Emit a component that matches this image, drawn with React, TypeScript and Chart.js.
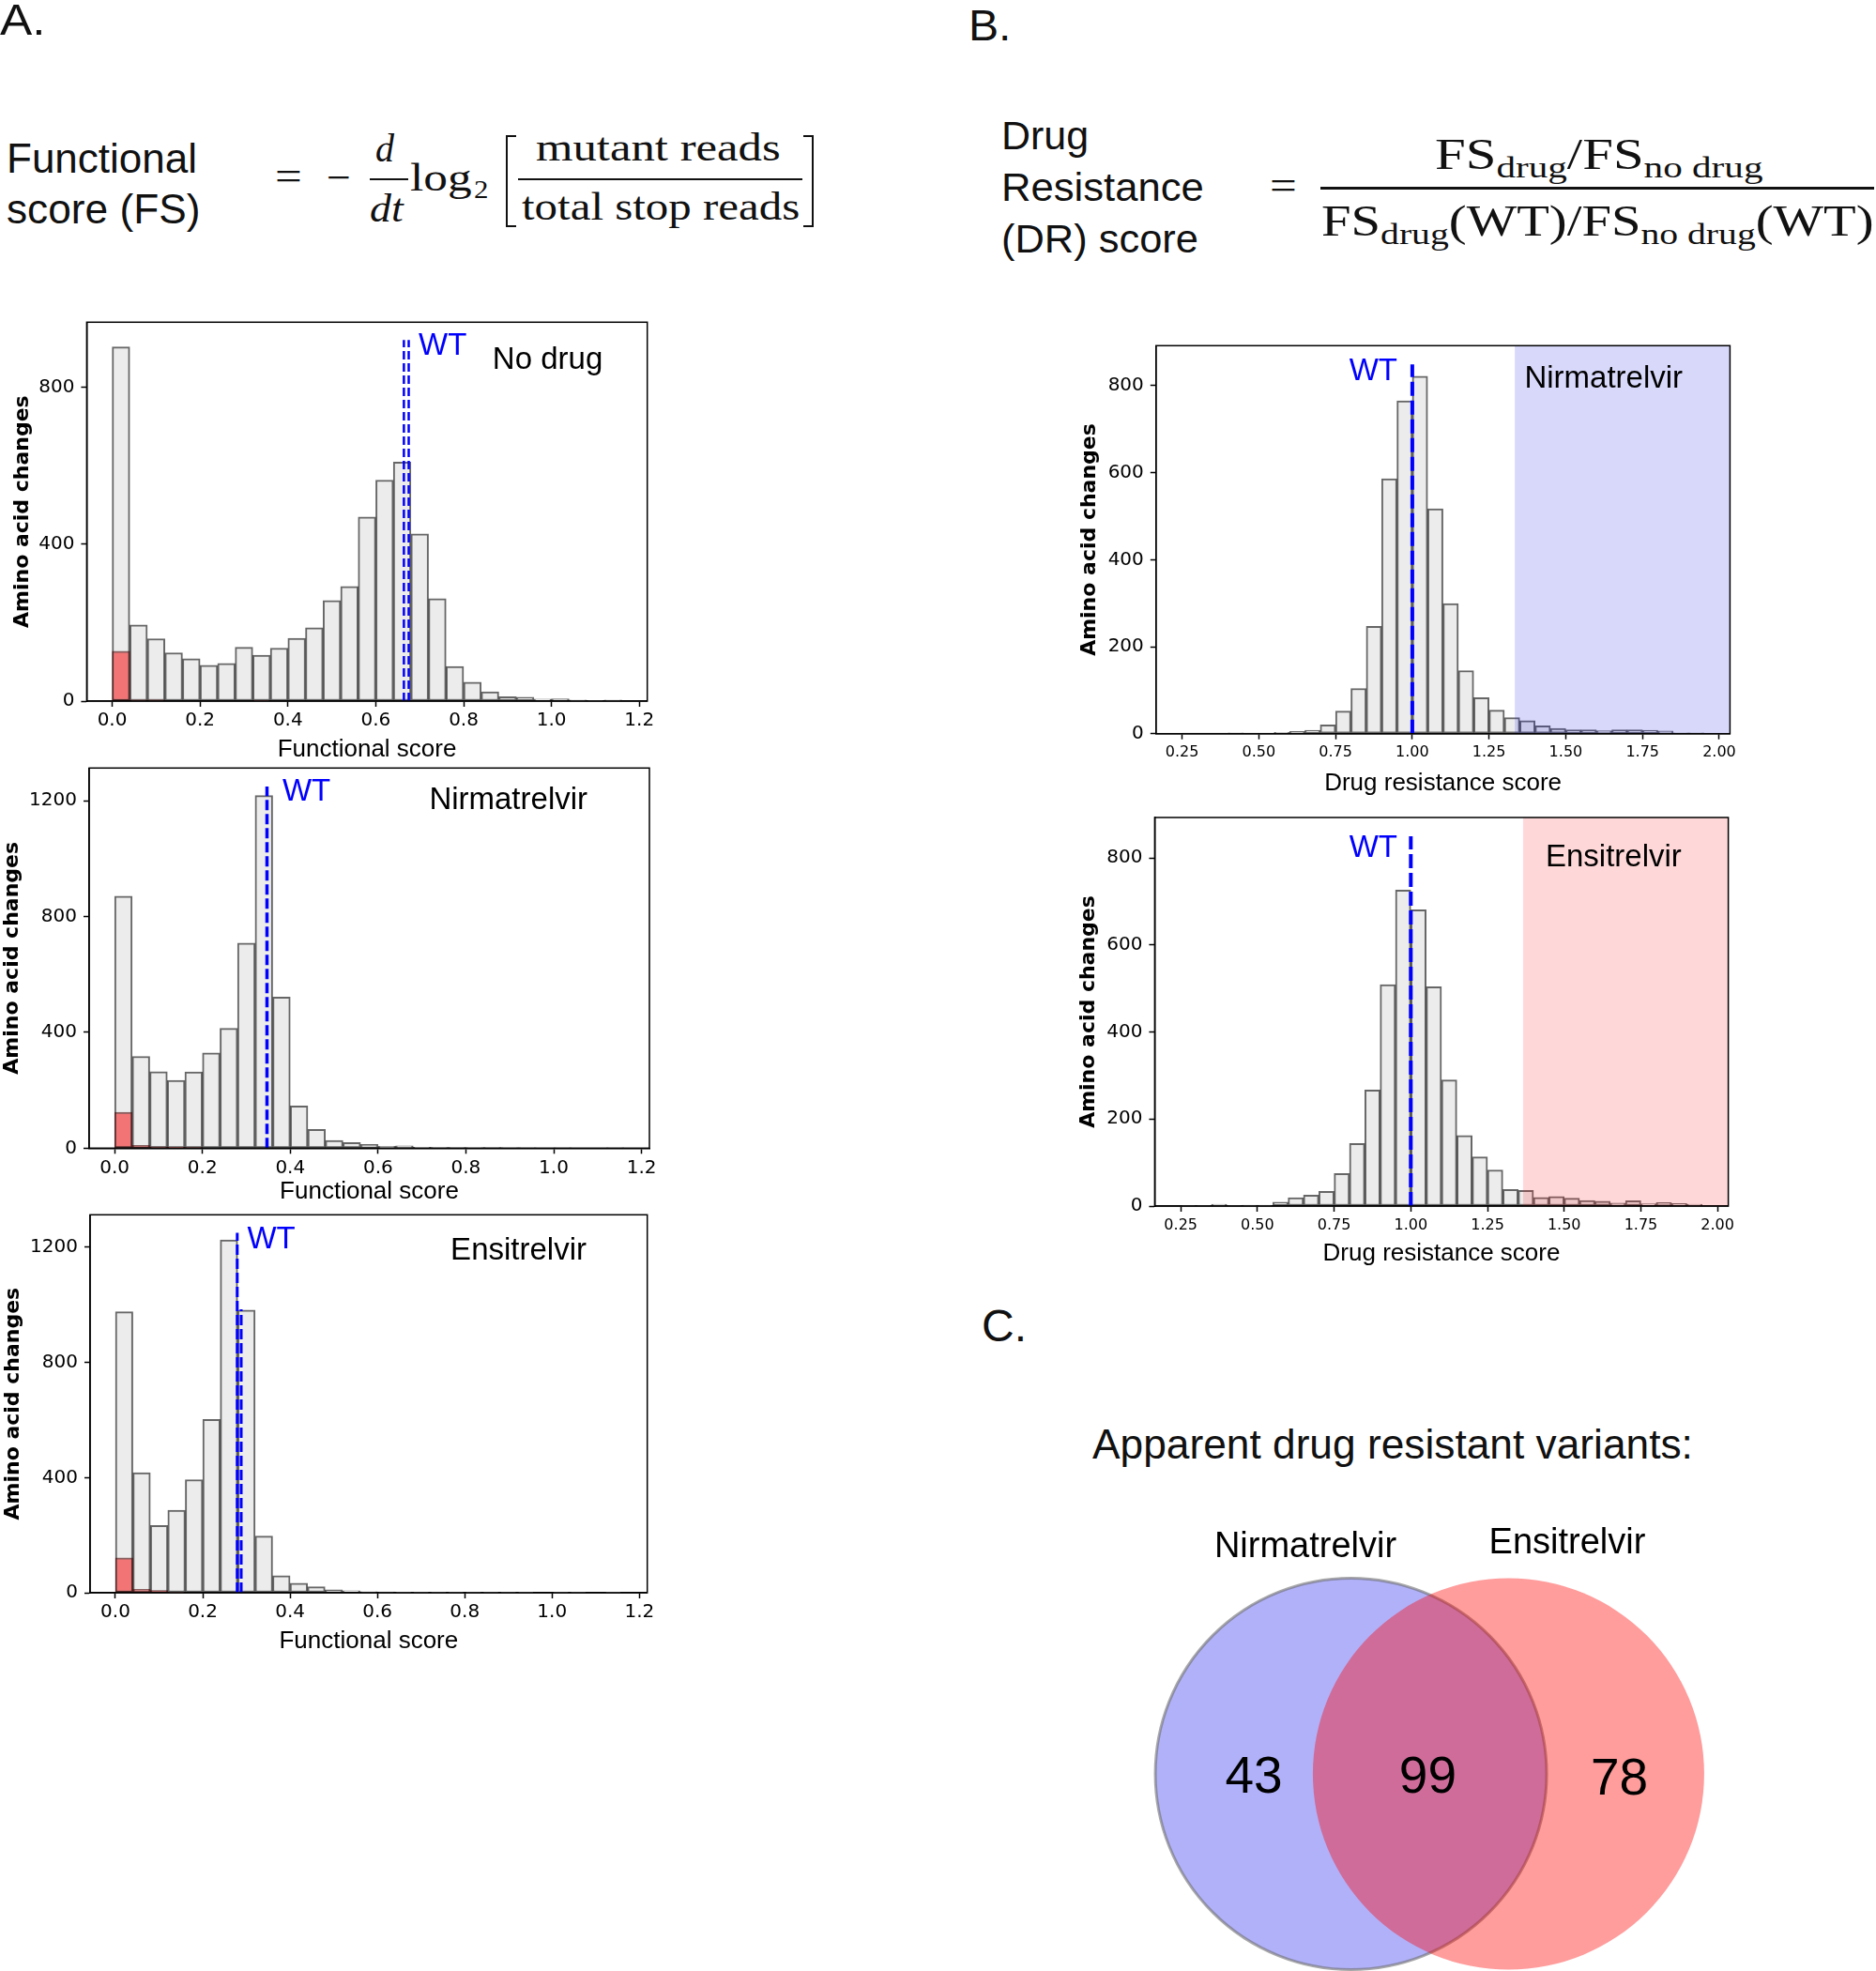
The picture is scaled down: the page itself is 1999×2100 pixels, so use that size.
import React, { useEffect, useLayoutEffect, useRef } from 'react';
import { Chart, registerables } from 'chart.js';

Chart.register(...registerables);

// ---------------- DATA ----------------
// Functional-score histograms: bins of 0.04 starting at 0.00
const fsBinStart = 0;
const fsBinWidth = 0.04;
const noDrugCounts = [902, 194, 159, 123, 108, 91, 96, 137, 117, 135, 160, 187, 256, 292, 469, 563, 609, 426, 261, 88, 48, 24, 11, 10, 5, 6, 3, 1, 3];
const noDrugStopCounts = [127, 3, 3, 0, 0, 0, 0, 0, 2, 0, 0, 0, 0, 0, 0, 0, 0, 0, 0, 0, 0, 0, 0, 0, 0, 0, 0, 0, 0];
const nirFsCounts = [870, 317, 264, 234, 263, 329, 414, 708, 1218, 522, 146, 65, 27, 19, 13, 6, 8, 3, 2, 2, 1, 2, 1, 1, 0, 1, 0, 0, 1];
const nirFsStopCounts = [124, 10, 5, 3, 2, 0, 0, 0, 0, 0, 0, 0, 0, 0, 0, 0, 0, 0, 0, 0, 0, 0, 0, 0, 0, 0, 0, 0, 0];
const ensFsCounts = [976, 417, 234, 287, 393, 602, 1226, 982, 197, 59, 33, 21, 10, 7, 4, 3, 2, 1, 1, 1, 2, 1, 1, 1, 0, 1, 1, 0, 1];
const ensFsStopCounts = [121, 12, 8, 2, 0, 0, 0, 0, 0, 0, 0, 0, 0, 0, 0, 0, 0, 0, 0, 0, 0, 0, 0, 0, 0, 0, 0, 0, 0];

// Drug-resistance-score histograms: bins of 0.05 starting at 0.25
const drBinStart = 0.25;
const drBinWidth = 0.05;
const nirDrCounts = [1, 1, 1, 2, 1, 1, 3, 5, 8, 20, 52, 104, 247, 586, 765, 822, 517, 299, 145, 83, 54, 37, 30, 18, 12, 9, 9, 7, 9, 9, 8, 6, 2, 2];
const ensDrCounts = [1, 1, 4, 1, 2, 2, 9, 19, 25, 34, 75, 144, 267, 509, 726, 681, 504, 290, 162, 113, 83, 38, 36, 20, 22, 18, 13, 11, 7, 12, 5, 8, 6, 4];

// Tick labels
const fsTicksX = [0, 0.2, 0.4, 0.6, 0.8, 1.0, 1.2];
const drTicksX = [0.25, 0.5, 0.75, 1.0, 1.25, 1.5, 1.75, 2.0];
const fsTicksYNoDrug = [0, 400, 800];
const fsTicksYDrug = [0, 400, 800, 1200];
const drTicksY = [0, 200, 400, 600, 800];

// WT reference values (x) and the height reached by each WT marker line
const wtNoDrug = [{ x: 0.664, top: 920 }, { x: 0.675, top: 920 }];
const wtNirFs = [{ x: 0.347, top: 1249 }];
const wtEnsFs = [{ x: 0.279, top: 1250 }, { x: 0.288, top: 985 }];
const wtNirDr = [{ x: 1.0, top: 849 }];
const wtEnsDr = [{ x: 1.0, top: 850 }];

// Resistance thresholds (shaded regions)
const nirDrThreshold = 1.334;
const ensDrThreshold = 1.366;

// Venn diagram
const vennSetLabels = ['Nirmatrelvir', 'Ensitrelvir'];
const vennCounts = [43, 99, 78]; // Nirmatrelvir only, both, Ensitrelvir only

// ---------------- STYLE ----------------
const SANS = '"Liberation Sans", Arial, Helvetica, sans-serif';
const SERIF = '"Liberation Serif", "Times New Roman", serif';
const MPL = '"DejaVu Sans", "Liberation Sans", sans-serif';

const extrasPlugin = {
  id: 'extras',
  afterDatasetsDraw(chart: any, _args: any, opts: any) {
    const { ctx, chartArea: a, scales } = chart;
    const x = scales.x;
    const y = scales.y;
    ctx.save();
    if (opts.shade) {
      const x0 = x.getPixelForValue(opts.shade.from);
      ctx.fillStyle = opts.shade.color;
      ctx.fillRect(x0, a.top, a.right - x0, a.bottom - a.top);
    }
    ctx.strokeStyle = '#0000ff';
    ctx.lineWidth = opts.wtWidth;
    ctx.setLineDash(opts.dash);
    for (const w of opts.wt) {
      const px = x.getPixelForValue(w.x);
      ctx.beginPath();
      ctx.moveTo(px, y.getPixelForValue(0));
      ctx.lineTo(px, y.getPixelForValue(w.top));
      ctx.stroke();
    }
    ctx.setLineDash([]);
    ctx.font = `33px ${SANS}`;
    ctx.textBaseline = 'alphabetic';
    for (const t of opts.texts) {
      ctx.fillStyle = t.color;
      ctx.textAlign = t.align || 'left';
      ctx.fillText(t.text, a.left + t.fx * (a.right - a.left), a.bottom - t.fy * (a.bottom - a.top));
    }
    ctx.strokeStyle = '#000';
    ctx.lineWidth = 1.5;
    ctx.strokeRect(a.left, a.top, a.right - a.left, a.bottom - a.top);
    ctx.restore();
  },
};

type Panel = {
  area: { l: number; t: number; r: number; b: number };
  yTitleX: number;
  xTitleMid: number;
  xMin: number;
  xMax: number;
  yMax: number;
  xTicks: number[];
  yTicks: number[];
  xDec: number;
  xTickSize: number;
  binStart: number;
  binWidth: number;
  counts: number[];
  stop?: number[];
  xTitle: string;
  wt: { x: number; top: number }[];
  wtWidth: number;
  dash: number[];
  shade?: { from: number; color: string };
  texts: { text: string; fx: number; fy: number; color: string; align?: string }[];
};

const Y_TITLE_SIZE = 22;
const X_TITLE_SIZE = 26;

const panels: Panel[] = [
  {
    area: { l: 92.4, t: 343.3, r: 689.7, b: 747 }, yTitleX: 24.5, xTitleMid: 798,
    xMin: -0.058, xMax: 1.218, yMax: 965, xTicks: fsTicksX, yTicks: fsTicksYNoDrug, xDec: 1, xTickSize: 20,
    binStart: fsBinStart, binWidth: fsBinWidth, counts: noDrugCounts, stop: noDrugStopCounts,
    xTitle: 'Functional score', wt: wtNoDrug, wtWidth: 2.5, dash: [9, 4],
    texts: [
      { text: 'WT', fx: 0.592, fy: 0.914, color: '#0000ff' },
      { text: 'No drug', fx: 0.724, fy: 0.876, color: '#000' },
    ],
  },
  {
    area: { l: 95, t: 818.3, r: 692, b: 1223.3 }, yTitleX: 13.4, xTitleMid: 1269,
    xMin: -0.058, xMax: 1.218, yMax: 1313, xTicks: fsTicksX, yTicks: fsTicksYDrug, xDec: 1, xTickSize: 20,
    binStart: fsBinStart, binWidth: fsBinWidth, counts: nirFsCounts, stop: nirFsStopCounts,
    xTitle: 'Functional score', wt: wtNirFs, wtWidth: 3.5, dash: [11, 4],
    texts: [
      { text: 'WT', fx: 0.345, fy: 0.914, color: '#0000ff' },
      { text: 'Nirmatrelvir', fx: 0.607, fy: 0.892, color: '#000' },
    ],
  },
  {
    area: { l: 96, t: 1294.3, r: 689.7, b: 1697 }, yTitleX: 14.3, xTitleMid: 1748,
    xMin: -0.058, xMax: 1.218, yMax: 1313, xTicks: fsTicksX, yTicks: fsTicksYDrug, xDec: 1, xTickSize: 20,
    binStart: fsBinStart, binWidth: fsBinWidth, counts: ensFsCounts, stop: ensFsStopCounts,
    xTitle: 'Functional score', wt: wtEnsFs, wtWidth: 3, dash: [11, 4],
    texts: [
      { text: 'WT', fx: 0.282, fy: 0.911, color: '#0000ff' },
      { text: 'Ensitrelvir', fx: 0.647, fy: 0.8815, color: '#000' },
    ],
  },
  {
    area: { l: 1231.8, t: 368.3, r: 1843.4, b: 781.7 }, yTitleX: 1161, xTitleMid: 834,
    xMin: 0.165, xMax: 2.035, yMax: 892, xTicks: drTicksX, yTicks: drTicksY, xDec: 2, xTickSize: 16,
    binStart: drBinStart, binWidth: drBinWidth, counts: nirDrCounts,
    xTitle: 'Drug resistance score', wt: wtNirDr, wtWidth: 4, dash: [15, 5],
    shade: { from: nirDrThreshold, color: 'rgba(40,40,235,0.18)' },
    texts: [
      { text: 'WT', fx: 0.4205, fy: 0.911, color: '#0000ff', align: 'right' },
      { text: 'Nirmatrelvir', fx: 0.642, fy: 0.892, color: '#000' },
    ],
  },
  {
    area: { l: 1230.4, t: 871, r: 1841.6, b: 1285 }, yTitleX: 1160, xTitleMid: 1335,
    xMin: 0.165, xMax: 2.035, yMax: 893, xTicks: drTicksX, yTicks: drTicksY, xDec: 2, xTickSize: 16,
    binStart: drBinStart, binWidth: drBinWidth, counts: ensDrCounts,
    xTitle: 'Drug resistance score', wt: wtEnsDr, wtWidth: 4, dash: [15, 5],
    shade: { from: ensDrThreshold, color: 'rgba(250,40,40,0.18)' },
    texts: [
      { text: 'WT', fx: 0.423, fy: 0.899, color: '#0000ff', align: 'right' },
      { text: 'Ensitrelvir', fx: 0.6816, fy: 0.874, color: '#000' },
    ],
  },
];

function panelGeometry(p: Panel) {
  const canvasLeft = Math.round(p.yTitleX - (Y_TITLE_SIZE * 1.2) / 2);
  const canvasTop = Math.round(p.area.t - 24);
  const canvasBottom = p.xTitleMid + (X_TITLE_SIZE * 1.2) / 2;
  const width = Math.round(p.area.r + 18 - canvasLeft);
  const height = Math.round(canvasBottom - canvasTop);
  return {
    left: canvasLeft,
    top: canvasTop,
    width,
    height,
    padTop: p.area.t - canvasTop,
    padRight: canvasLeft + width - p.area.r,
    yScaleWidth: p.area.l - canvasLeft,
    xScaleHeight: canvasTop + height - p.area.b,
  };
}

function histConfig(p: Panel, g: ReturnType<typeof panelGeometry>): any {
  const centers = p.counts.map((_, i) => p.binStart + p.binWidth * (i + 0.5));
  const datasets: any[] = [];
  const common = {
    borderWidth: 2,
    borderSkipped: false,
    grouped: false,
    barPercentage: 1,
    categoryPercentage: 1,
  };
  if (p.stop) {
    datasets.push({
      ...common,
      data: p.stop.map((v, i) => ({ x: centers[i], y: v })),
      backgroundColor: '#f27474',
      borderColor: 'rgba(70,0,0,0.6)',
      order: 0,
    });
  }
  datasets.push({
    ...common,
    data: p.counts.map((v, i) => ({ x: centers[i], y: v })),
    backgroundColor: '#ececec',
    borderColor: 'rgba(0,0,0,0.6)',
    order: 1,
  });
  const grid = { display: true, drawOnChartArea: false, drawTicks: true, tickLength: 6, tickWidth: 1.5, tickColor: '#000', offset: false };
  const border = { display: true, color: '#000', width: 1.5 };
  return {
    type: 'bar',
    data: { datasets },
    plugins: [extrasPlugin],
    options: {
      responsive: false,
      maintainAspectRatio: false,
      animation: false,
      events: [],
      layout: { padding: { top: g.padTop, right: g.padRight, left: 0, bottom: 0 } },
      plugins: {
        legend: { display: false },
        tooltip: { enabled: false },
        extras: { shade: p.shade, wt: p.wt, wtWidth: p.wtWidth, dash: p.dash, texts: p.texts },
      },
      scales: {
        x: {
          type: 'linear',
          min: p.xMin,
          max: p.xMax,
          offset: false,
          afterBuildTicks: (s: any) => { s.ticks = p.xTicks.map((v) => ({ value: v })); },
          afterFit: (s: any) => { s.height = g.xScaleHeight; },
          ticks: {
            callback: (v: any) => Number(v).toFixed(p.xDec),
            font: { family: MPL, size: p.xTickSize },
            color: '#000',
            padding: p.xDec === 2 ? 5 : 3,
            autoSkip: false,
            maxRotation: 0,
            minRotation: 0,
          },
          grid,
          border,
          title: { display: true, text: p.xTitle, font: { family: SANS, size: X_TITLE_SIZE }, color: '#000', padding: 0 },
        },
        y: {
          type: 'linear',
          min: 0,
          max: p.yMax,
          afterBuildTicks: (s: any) => { s.ticks = p.yTicks.map((v) => ({ value: v })); },
          afterFit: (s: any) => { s.width = g.yScaleWidth; },
          ticks: {
            callback: (v: any) => String(v),
            font: { family: MPL, size: 20 },
            color: '#000',
            padding: 7,
            autoSkip: false,
          },
          grid,
          border,
          title: { display: true, text: 'Amino acid changes', font: { family: MPL, size: Y_TITLE_SIZE, weight: 'bold' }, color: '#000', padding: 0 },
        },
      },
    },
  };
}

function HistChart({ p }: { p: Panel }) {
  const ref = useRef<HTMLCanvasElement>(null);
  const g = panelGeometry(p);
  useEffect(() => {
    const chart = new Chart(ref.current as HTMLCanvasElement, histConfig(p, g));
    return () => chart.destroy();
  }, []);
  return (
    <canvas
      ref={ref}
      width={g.width}
      height={g.height}
      style={{ position: 'absolute', left: g.left, top: g.top, width: g.width, height: g.height }}
    />
  );
}

// ---------------- VENN ----------------
const VENN = { left: 1100, top: 1590, width: 800, height: 510 };
const vennCircles = [
  { cx: -0.4025, cy: 0, r: 1, fill: '#b1b1fa', stroke: 'rgba(110,110,110,0.6)' },
  { cx: 0.4025, cy: 0, r: 1, fill: 'rgba(255,0,0,0.39)', stroke: null as string | null },
];
const vennCountPos = [{ x: -0.899, y: -0.096 }, { x: -0.01, y: -0.096 }, { x: 0.969, y: -0.105 }];
const vennLabelPos = [{ x: -0.6355, y: 1.11 }, { x: 0.7026, y: 1.127 }];

const vennPlugin = {
  id: 'venn',
  afterDraw(chart: any) {
    const { ctx, scales } = chart;
    const px = (v: number) => scales.x.getPixelForValue(v);
    const py = (v: number) => scales.y.getPixelForValue(v);
    const rp = (r: number) => px(r) - px(0);
    ctx.save();
    for (const c of vennCircles) {
      ctx.beginPath();
      ctx.arc(px(c.cx), py(c.cy), rp(c.r), 0, Math.PI * 2);
      ctx.fillStyle = c.fill;
      ctx.fill();
      if (c.stroke) {
        ctx.lineWidth = 3;
        ctx.strokeStyle = c.stroke;
        ctx.stroke();
      }
    }
    ctx.fillStyle = '#000';
    ctx.textAlign = 'center';
    ctx.textBaseline = 'alphabetic';
    ctx.font = `38px ${SANS}`;
    vennSetLabels.forEach((t, i) => ctx.fillText(t, px(vennLabelPos[i].x), py(vennLabelPos[i].y)));
    ctx.font = `55px ${SANS}`;
    vennCounts.forEach((n, i) => ctx.fillText(String(n), px(vennCountPos[i].x), py(vennCountPos[i].y)));
    ctx.restore();
  },
};

function VennChart() {
  const ref = useRef<HTMLCanvasElement>(null);
  useEffect(() => {
    const unit = 208.5;
    const cxPage = 1523.5;
    const cyPage = 1890;
    const xMin = (VENN.left - cxPage) / unit;
    const xMax = (VENN.left + VENN.width - cxPage) / unit;
    const yMax = (cyPage - VENN.top) / unit;
    const yMin = (cyPage - (VENN.top + VENN.height)) / unit;
    const chart = new Chart(ref.current as HTMLCanvasElement, {
      type: 'scatter',
      data: { datasets: [] },
      plugins: [vennPlugin],
      options: {
        responsive: false,
        maintainAspectRatio: false,
        animation: false,
        events: [],
        layout: { padding: 0 },
        plugins: { legend: { display: false }, tooltip: { enabled: false } },
        scales: {
          x: { type: 'linear', min: xMin, max: xMax, display: false },
          y: { type: 'linear', min: yMin, max: yMax, display: false },
        },
      },
    } as any);
    return () => chart.destroy();
  }, []);
  return (
    <canvas
      ref={ref}
      width={VENN.width}
      height={VENN.height}
      style={{ position: 'absolute', left: VENN.left, top: VENN.top, width: VENN.width, height: VENN.height }}
    />
  );
}

// ---------------- HTML TEXT ----------------
type TxtProps = {
  x: number;
  base: number;
  size: number;
  w?: number;
  family?: string;
  italic?: boolean;
  center?: boolean;
  children: React.ReactNode;
};

function Txt({ x, base, size, w, family = SANS, italic, center, children }: TxtProps) {
  const ref = useRef<HTMLDivElement>(null);
  useLayoutEffect(() => {
    const el = ref.current;
    if (!el || !w) return;
    el.style.transform = 'none';
    const natural = el.offsetWidth;
    if (natural > 0) el.style.transform = `scaleX(${w / natural})`;
  }, []);
  const left = center ? x - (w || 0) / 2 : x;
  return (
    <div
      ref={ref}
      style={{
        position: 'absolute',
        left,
        top: base - 0.845 * size,
        fontSize: size,
        lineHeight: `${size}px`,
        fontFamily: family,
        fontStyle: italic ? 'italic' : 'normal',
        whiteSpace: 'nowrap',
        transformOrigin: '0 0',
        color: '#111',
      }}
    >
      {children}
    </div>
  );
}

const Sub = ({ children }: { children: React.ReactNode }) => (
  <span style={{ fontSize: '0.7em', position: 'relative', top: '0.28em', lineHeight: 0 }}>{children}</span>
);

const Rule = ({ x1, x2, y, h }: { x1: number; x2: number; y: number; h: number }) => (
  <div style={{ position: 'absolute', left: x1, top: y - h / 2, width: x2 - x1, height: h, background: '#111' }} />
);

function Bracket({ x, top, bottom, side }: { x: number; top: number; bottom: number; side: 'l' | 'r' }) {
  const b = '2.5px solid #111';
  return (
    <div
      style={{
        position: 'absolute',
        left: x,
        top,
        width: 11,
        height: bottom - top,
        borderTop: b,
        borderBottom: b,
        borderLeft: side === 'l' ? b : 'none',
        borderRight: side === 'r' ? b : 'none',
        boxSizing: 'border-box',
      }}
    />
  );
}

export default function App() {
  return (
    <div style={{ position: 'absolute', left: 0, top: 0, width: 1999, height: 2100, background: '#fff', overflow: 'hidden' }}>
      {/* Panel labels */}
      <Txt x={0} base={37} size={46} w={48}>A.</Txt>
      <Txt x={1032} base={43} size={46} w={45}>B.</Txt>
      <Txt x={1046} base={1430} size={48} w={48}>C.</Txt>

      {/* Formula A */}
      <Txt x={7} base={184} size={44} w={203}>Functional</Txt>
      <Txt x={7} base={238} size={44} w={206}>score (FS)</Txt>
      <Txt x={307} base={203} size={44} w={29} family={SERIF} center>=</Txt>
      <Txt x={361} base={205} size={44} w={26} family={SERIF} center>−</Txt>
      <Txt x={410} base={172} size={42} w={20} family={SERIF} italic center>d</Txt>
      <Rule x1={394} x2={435} y={191} h={2.5} />
      <Txt x={412} base={236} size={42} w={36} family={SERIF} italic center>dt</Txt>
      <Txt x={437} base={203} size={42} w={66} family={SERIF}>log</Txt>
      <Txt x={505} base={212} size={27} w={16} family={SERIF}>2</Txt>
      <Bracket x={539} top={144} bottom={242} side="l" />
      <Txt x={701.5} base={171} size={42} w={261} family={SERIF} center>mutant reads</Txt>
      <Rule x1={552} x2={855} y={191} h={2.5} />
      <Txt x={704} base={234} size={42} w={296} family={SERIF} center>total stop reads</Txt>
      <Bracket x={856} top={144} bottom={242} side="r" />

      {/* Formula B */}
      <Txt x={1067} base={159} size={42} w={93}>Drug</Txt>
      <Txt x={1067} base={214} size={42} w={216}>Resistance</Txt>
      <Txt x={1067} base={269} size={42} w={210}>(DR) score</Txt>
      <Txt x={1367} base={213} size={44} w={29} family={SERIF} center>=</Txt>
      <Txt x={1529} base={181} size={46} w={349} family={SERIF}>
        FS<Sub>drug</Sub>/FS<Sub>no drug</Sub>
      </Txt>
      <Rule x1={1407} x2={1997} y={200} h={3} />
      <Txt x={1408} base={252} size={46} w={589} family={SERIF}>
        FS<Sub>drug</Sub>(WT)/FS<Sub>no drug</Sub>(WT)
      </Txt>

      {/* Histograms */}
      {panels.map((p, i) => (
        <HistChart key={i} p={p} />
      ))}

      {/* Panel C */}
      <Txt x={1163.5} base={1554} size={44} w={640}>Apparent drug resistant variants:</Txt>
      <VennChart />
    </div>
  );
}
